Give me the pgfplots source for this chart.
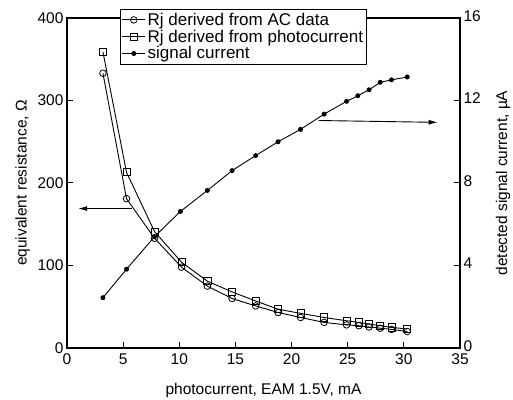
\documentclass[border=0pt]{standalone}
\usepackage{fontspec}
\setmainfont{Liberation Sans}
\usepackage{pgfplots}
\pgfplotsset{compat=1.18}
\usetikzlibrary{arrows.meta}

\newcommand{\lblfont}{\fontsize{15.5}{17}\selectfont}

\pgfplotsset{
  common/.style={
    scale only axis, width=393pt, height=330pt,
    xmin=0, xmax=35,
    tick align=inside, major tick length=6pt,
    axis line style={line width=1.1pt},
    every tick/.style={black, line width=1pt},
    /pgf/number format/assume math mode=true,
    tick label style={font=\lblfont},
  }
}

\begin{document}
\begin{tikzpicture}
\begin{axis}[
  common, name=main,
  ymin=0, ymax=400,
  xtick={0,5,...,35}, ytick={0,100,...,400},
  xtick pos=bottom, ytick pos=left,
  xticklabel style={yshift=-2pt},
  xlabel={photocurrent, EAM 1.5V, mA},
  ylabel={equivalent resistance, \symbol{"03A9}},
  every axis x label/.style={at={(rel axis cs:0.5,0)}, anchor=base, yshift=-47pt, font=\lblfont},
  every axis y label/.style={at={(rel axis cs:-0.113,0.5)}, rotate=90, anchor=center, font=\lblfont},
  legend style={at={(0.135,1.027)}, anchor=north west, draw=black, line width=0.8pt,
    fill=white, font=\fontsize{17}{19}\selectfont, inner sep=1.5pt, row sep=-1pt,
    legend cell align=left},
  legend image code/.code={
    \draw[mark repeat=2, mark phase=2] plot coordinates {(0cm,0cm) (0.4cm,0cm) (0.8cm,0cm)};},
]
\addplot[black, line width=0.9pt, mark=o, mark size=3.3pt, mark options={line width=0.8pt, fill=white}]
  coordinates {(3.2,333)(5.3,181)(7.8,133)(10.2,98)(12.5,75)(14.7,60)(16.8,51)(18.8,43)
  (20.8,37)(22.9,31)(24.9,28)(26.0,27)(26.9,25.5)(27.9,24)(28.9,22.5)(30.3,20)};
\addlegendentry{Rj derived from AC data}
\addplot[black, line width=0.9pt, mark=square, mark size=3.6pt, mark options={line width=0.8pt}]
  coordinates {(3.2,359)(5.3,213)(7.8,141)(10.2,104)(12.5,81)(14.7,68)(16.8,57)(18.8,47)
  (20.8,42)(22.9,37)(24.9,33)(26.0,31)(26.9,29)(27.9,27)(28.9,25)(30.3,23)};
\addlegendentry{Rj derived from photocurrent}
\addlegendimage{black, line width=0.9pt, mark=*, mark size=2pt}
\addlegendentry{signal current}
\draw[line width=0.9pt, -{Latex[length=9pt, width=5pt]}] (axis cs:5.8,169) -- (axis cs:1.0,169);
\end{axis}
\begin{axis}[
  common,
  ymin=0, ymax=16, ytick={0,4,...,16},
  axis x line=none, axis y line*=right,
  yticklabel style={yshift=2pt},
  ylabel={detected signal current, \textmu A},
  every axis y label/.style={at={(rel axis cs:1.11,0.5)}, rotate=90, anchor=center, font=\lblfont},
]
\addplot[black, line width=0.9pt, mark=*, mark size=2pt]
  coordinates {(3.2,2.44)(5.3,3.82)(7.8,5.4)(10.1,6.62)(12.5,7.64)(14.7,8.6)(16.8,9.33)
  (18.8,10.0)(20.8,10.6)(22.9,11.34)(24.9,11.96)(25.9,12.23)(26.9,12.52)(27.9,12.88)
  (28.9,13.0)(30.3,13.14)};
\draw[line width=0.9pt, -{Latex[length=9pt, width=5pt]}] (axis cs:22.4,11.03) -- (axis cs:33.0,10.94);
\end{axis}
\pgfresetboundingbox
\useasboundingbox ([shift={(-67pt,-52pt)}]main.south west) rectangle ([shift={(53pt,18pt)}]main.north east);
\end{tikzpicture}
\end{document}
